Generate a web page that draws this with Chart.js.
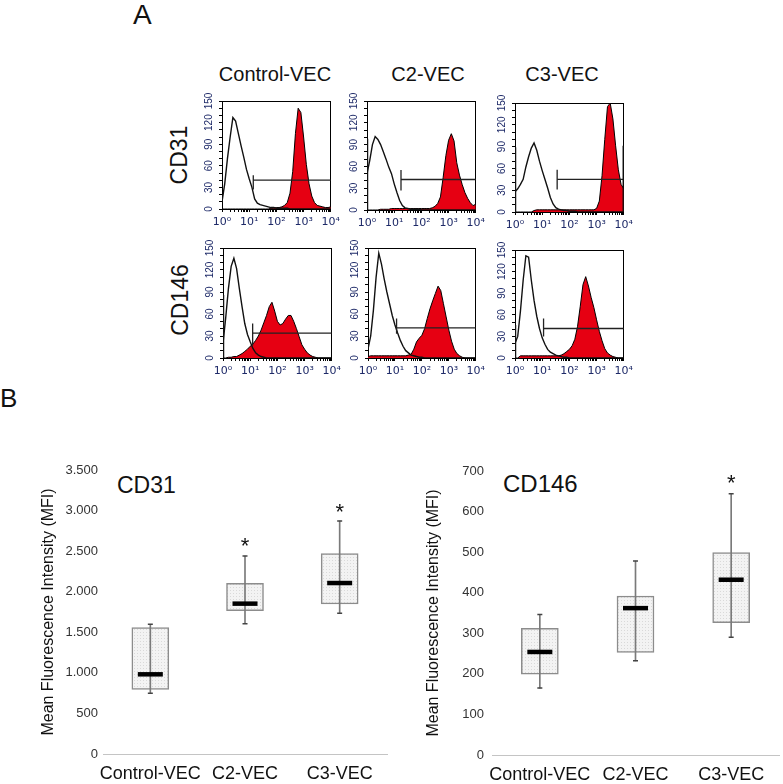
<!DOCTYPE html>
<html><head><meta charset="utf-8">
<script src="https://cdn.jsdelivr.net/npm/chart.js@4.4.0/dist/chart.umd.min.js"></script>
<style>
html,body{margin:0;padding:0;background:#fff;}
#root{position:relative;width:783px;height:784px;overflow:hidden;font-family:"Liberation Sans",Arial,sans-serif;background:#fff;}
.box{position:absolute;}
.lbl{position:absolute;color:#111;white-space:nowrap;line-height:1;}
</style></head><body><div id="root"></div>
<script>
// ---------- DATA: panel A (flow cytometry histograms) ----------
const logX = [0,0.1,0.2,0.3,0.4,0.5,0.6,0.7,0.8,0.9,1.0,1.1,1.2,1.3,1.4,1.5,1.6,1.7,1.8,1.9,2.0,2.1,2.2,2.3,2.4,2.5,2.6,2.7,2.8,2.9,3.0,3.1,3.2,3.3,3.4,3.5,3.6,3.7,3.8,3.9,4.0];
const xMajorTicks = [0,1,2,3,4];
const xTickLabels = ['10\u2070','10\u00B9','10\u00B2','10\u00B3','10\u2074'];
const yCountTicks = [0,10,20,30,40,50,60,70,80,90,100,110,120,130,140,150];
const yLabelStep = 30;
const columnNames = ['Control-VEC','C2-VEC','C3-VEC'];
const rowNames = ['CD31','CD146'];

const cd31CtrlIso = [10,35,70,100,127,122,105,88,72,55,42,30,14,8,6,5,4,3,2,2,1,1,1,1,1,0,0,0,0,0,0,0,0,0,0,0,0,0,0,0,0];
const cd31CtrlPos = [0,0,0,0,0,0,0,0,0,0,0,0,0,0,0,0,0,0,1,1,2,2,3,5,9,22,52,105,140,134,100,62,35,18,9,5,4,3,2,2,3];
const cd31C2Iso   = [50,68,90,101,97,90,80,70,59,50,36,24,13,6,3,2,1,1,1,1,0,0,0,0,0,0,0,0,0,0,0,0,0,0,0,0,0,0,0,0,0];
const cd31C2Pos   = [0,0,0,0,0,1,1,1,1,2,2,2,2,2,2,2,2,2,2,2,2,2,2,2,3,5,9,18,45,75,96,105,95,65,48,35,24,16,10,6,8];
const cd31C3Iso   = [28,32,38,45,62,76,88,95,85,70,57,45,33,20,11,6,4,3,2,2,1,1,1,0,0,0,0,0,0,0,0,0,0,0,0,0,0,0,0,0,0];
const cd31C3Pos   = [0,0,0,0,0,0,0,2,3,3,3,3,3,3,3,3,3,3,3,3,3,3,3,3,3,3,3,3,3,3,5,15,50,100,145,150,128,91,58,38,32];
const cd146CtrlIso= [20,55,95,125,136,122,95,70,47,32,22,13,7,4,2,1,0,0,0,0,0,0,0,0,0,0,0,0,0,0,0,0,0,0,0,0,0,0,0,0,0];
const cd146CtrlPos= [0,0,1,1,2,2,4,6,9,12,16,19,24,30,38,48,58,70,76,64,50,45,47,53,58,58,50,40,29,18,12,7,4,2,1,0,0,0,0,0,0];
const cd146C2Iso  = [12,30,65,110,143,128,108,90,74,58,45,34,24,16,10,7,4,3,2,1,1,0,0,0,0,0,0,0,0,0,0,0,0,0,0,0,0,0,0,0,0];
const cd146C2Pos  = [2,3,3,3,3,3,3,3,3,3,3,3,3,3,3,4,5,12,22,27,31,40,54,67,78,88,98,92,74,56,38,23,12,6,3,1,0,0,0,0,0];
const cd146C3Iso  = [20,30,65,108,142,140,108,80,58,41,28,19,12,8,6,4,3,2,1,1,0,0,0,0,0,0,0,0,0,0,0,0,0,0,0,0,0,0,0,0,0];
const cd146C3Pos  = [0,0,3,3,3,3,3,3,3,3,3,3,3,3,3,3,3,4,6,9,12,17,26,44,72,102,113,100,84,70,53,37,24,13,7,4,2,1,0,0,0];

// off-scale events piled up at the axis edges (first / last channel), per panel
const edgeLowCount  = [null,98,89,86,null,46];
const edgeHighCount = [null,null,91,null,null,null];

// gate markers (log units / counts), one per panel
const gateStart = [1.15,1.25,1.55,1.09,1.06,1.05];
const gateEnd   = [4,4,4,4,4,4];
const gateLevel = [40,42,45,34,41,41];
const gateLow   = [27,27,31,17,33,30];
const gateHigh  = [47,55,58,47,54,55];

// ---------- DATA: panel B (box plots) ----------
const groups = ['Control-VEC','C2-VEC','C3-VEC'];
const cd31Min = [748,1606,1734];
const cd31Q1  = [797,1766,1849];
const cd31Med = [982,1853,2107];
const cd31Q3  = [1557,2103,2469];
const cd31Max = [1598,2440,2871];
const cd31Star= [null,2637,3048];
const cd31Ticks = [0,500,1000,1500,2000,2500,3000,3500];

const cd146Min = [165,232,290];
const cd146Q1  = [199,253,326];
const cd146Med = [254,362,432];
const cd146Q3  = [312,392,499];
const cd146Max = [346,478,644];
const cd146Star= [null,null,685];
const cd146Ticks = [0,100,200,300,400,500,600,700];

const yTitle = 'Mean Fluorescence Intensity (MFI)';

// ---------- rendering ----------
Chart.defaults.font.family = '"Liberation Sans", Arial, "DejaVu Sans", sans-serif';
Chart.defaults.animation = false;
const root = document.getElementById('root');
const RED = '#e60012';
const NAVY = '#1e2a68';

function addLabel(text, left, top, size, extra){
  const d = document.createElement('div');
  d.className = 'lbl'; d.textContent = text;
  d.style.left = left+'px'; d.style.top = top+'px'; d.style.fontSize = size+'px';
  if (extra) d.style.transform = extra;
  root.appendChild(d);
  return d;
}
function addCanvas(left, top, w, h){
  const d = document.createElement('div'); d.className='box';
  d.style.left=left+'px'; d.style.top=top+'px'; d.style.width=w+'px'; d.style.height=h+'px';
  const c = document.createElement('canvas'); c.width=w; c.height=h; c.style.width=w+'px'; c.style.height=h+'px';
  d.appendChild(c); root.appendChild(d);
  return c;
}

// text labels of the figure
addLabel('A', 133, 1, 28);
addLabel('B', 0, 385, 26);
[275, 428, 562].forEach((cx,i)=> addLabel(columnNames[i], cx, 64, 20, 'translateX(-50%)'));
[[179,155],[180,300]].forEach((p,i)=> addLabel(rowNames[i], p[0], p[1], 23, 'translate(-50%,-50%) rotate(-90deg)'));

const panels = [
  {iso:cd31CtrlIso, pos:cd31CtrlPos, L:222,R:332,T:101,B:209},
  {iso:cd31C2Iso,   pos:cd31C2Pos,   L:367,R:477,T:101,B:210},
  {iso:cd31C3Iso,   pos:cd31C3Pos,   L:515,R:625,T:103,B:212},
  {iso:cd146CtrlIso,pos:cd146CtrlPos,L:223,R:333,T:248,B:358},
  {iso:cd146C2Iso,  pos:cd146C2Pos,  L:368,R:477,T:248,B:358},
  {iso:cd146C3Iso,  pos:cd146C3Pos,  L:515,R:625,T:250,B:358}
];
const YW = 20, XH = 24, PT = 8, PR = 12;

panels.forEach((p, g) => {
  const w = YW + (p.R - p.L) + PR, h = PT + (p.B - p.T) + XH;
  const cv = addCanvas(p.L - YW, p.T - PT, w, h);
  const datasets = [
    { data: logX.map((x,i)=>({x, y:p.pos[i]})), borderColor:'#000', borderWidth:1, backgroundColor:RED, fill:'origin', pointRadius:0, tension:0, order:3 },
    { data: logX.map((x,i)=>({x, y:p.iso[i]})), borderColor:'#111', borderWidth:1.4, fill:false, pointRadius:0, tension:0, order:2 },
    { data: [{x:gateStart[g], y:gateLevel[g]},{x:gateEnd[g], y:gateLevel[g]}], borderColor:'#222', borderWidth:1.3, pointRadius:0, fill:false, order:1 },
    { data: [{x:gateStart[g], y:gateLow[g]},{x:gateStart[g], y:gateHigh[g]}], borderColor:'#222', borderWidth:1.3, pointRadius:0, fill:false, order:0 }
  ];
  if (edgeLowCount[g] != null) datasets.push({ data:[{x:logX[0], y:0},{x:logX[0], y:edgeLowCount[g]}], borderColor:'#111', borderWidth:2.5, pointRadius:0, fill:false, order:0 });
  if (edgeHighCount[g] != null) datasets.push({ data:[{x:logX[logX.length-1], y:0},{x:logX[logX.length-1], y:edgeHighCount[g]}], borderColor:'#111', borderWidth:2.5, pointRadius:0, fill:false, order:0 });
  new Chart(cv, {
    type: 'line',
    data: { datasets },
    options: {
      responsive:false, maintainAspectRatio:false, animation:false,
      layout:{ padding:{top:PT, right:PR, left:0, bottom:0} },
      plugins:{ legend:{display:false}, tooltip:{enabled:false} },
      scales:{
        x:{ type:'linear', min:0, max:4,
          afterBuildTicks:(s)=>{ const t=[]; xMajorTicks.forEach(m=>{ t.push({value:m}); if(m<4){ for(let k=2;k<10;k++) t.push({value:m+Math.log10(k)}); } }); s.ticks=t; },
          ticks:{ autoSkip:false, maxRotation:0, minRotation:0, padding:4, color:NAVY, font:{size:11, family:'"DejaVu Sans", "Liberation Sans", sans-serif'},
            callback:(v)=>{ const i = xMajorTicks.indexOf(v); return i>=0 ? xTickLabels[i] : ''; } },
          grid:{ display:true, drawOnChartArea:false, tickLength:3, color:'#000', lineWidth:1 },
          border:{ display:true, color:'#000', width:1 },
          afterFit:(s)=>{ s.height = XH; } },
        y:{ type:'linear', min:0, max:150,
          afterBuildTicks:(s)=>{ s.ticks = yCountTicks.map(v=>({value:v})); },
          ticks:{ autoSkip:false, minRotation:90, maxRotation:90, crossAlign:'center', padding:1, color:NAVY, font:{size:10},
            callback:(v)=> (v % yLabelStep === 0 ? String(v) : '') },
          grid:{ display:true, drawOnChartArea:false, tickLength:3, color:'#000', lineWidth:1 },
          border:{ display:true, color:'#000', width:1 },
          afterFit:(s)=>{ s.width = YW; } },
        x2:{ type:'linear', position:'top', min:0, max:4, ticks:{display:false}, grid:{display:false, drawTicks:false}, border:{display:true,color:'#000',width:1}, afterFit:(s)=>{ s.height=0; } },
        y2:{ type:'linear', position:'right', min:0, max:150, ticks:{display:false}, grid:{display:false, drawTicks:false}, border:{display:true,color:'#000',width:1}, afterFit:(s)=>{ s.width=0; } }
      }
    }
  });
});

// ---------- panel B ----------
function makePattern(){
  const c = document.createElement('canvas'); c.width=3; c.height=3;
  const x = c.getContext('2d');
  x.fillStyle='#f3f3f3'; x.fillRect(0,0,3,3);
  x.fillStyle='#d9d9d9'; x.fillRect(0,0,1,1);
  return x.createPattern(c,'repeat');
}
const starPlugin = {
  id:'stars',
  afterDatasetsDraw(chart, args, opts){
    const xs = chart.scales.x, ys = chart.scales.y, ctx = chart.ctx;
    ctx.save();
    ctx.fillStyle = '#111'; ctx.font = '22px "Liberation Sans", Arial, sans-serif';
    ctx.textAlign='center'; ctx.textBaseline='alphabetic';
    opts.values.forEach((v,i)=>{ if(v!=null){ ctx.fillText('*', xs.getPixelForValue(i), ys.getPixelForValue(v) + 12.5); } });
    ctx.restore();
  }
};
function fmtThousands(v){ return v>=1000 ? Math.floor(v/1000)+'.'+String(v%1000).padStart(3,'0') : String(v); }

function boxChart(cfg){
  const w = cfg.YW + (cfg.R - cfg.L) + cfg.PR;
  const h = cfg.PT + (cfg.B - cfg.T) + cfg.XH;
  const cv = addCanvas(cfg.L - cfg.YW, cfg.T - cfg.PT, w, h);
  const pattern = makePattern();
  new Chart(cv, {
    type:'bar',
    data:{ labels: groups, datasets:[
      { type:'bar', data: cfg.q1.map((v,i)=>[v, cfg.q3[i]]), backgroundColor:pattern, borderColor:'#8c8c8c', borderWidth:1.5, borderSkipped:false, barThickness:37, grouped:false, order:4 },
      { type:'bar', data: cfg.lo.map((v,i)=>[v, cfg.hi[i]]), backgroundColor:'#7a7a7a', borderWidth:0, barThickness:1, grouped:false, order:3 },
      { type:'line', data: cfg.lo, showLine:false, pointStyle:'line', pointRadius:2.5, pointBorderWidth:1.5, pointBorderColor:'#444', order:2 },
      { type:'line', data: cfg.hi, showLine:false, pointStyle:'line', pointRadius:2.5, pointBorderWidth:1.5, pointBorderColor:'#444', order:2 },
      { type:'line', data: cfg.med, showLine:false, pointStyle:'line', pointRadius:12.5, pointBorderWidth:4.5, pointBorderColor:'#000', order:1 }
    ]},
    options:{
      responsive:false, maintainAspectRatio:false, animation:false,
      layout:{ padding:{top:cfg.PT, right:cfg.PR, left:0, bottom:0} },
      plugins:{ legend:{display:false}, tooltip:{enabled:false}, stars:{ values: cfg.star } },
      scales:{
        x:{ type:'category', offset:true,
          grid:{ display:false, drawTicks:false },
          border:{ display:true, color:'#c4c4c4', width:1, dash:[2,2] },
          ticks:{ color:'#111', font:{size:18}, padding:9, maxRotation:0, autoSkip:false },
          afterFit:(s)=>{ s.height = cfg.XH; } },
        y:{ type:'linear', min:0, max:cfg.max,
          afterBuildTicks:(s)=>{ s.ticks = cfg.ticks.map(v=>({value:v})); },
          grid:{ display:false, drawTicks:false },
          border:{ display:false },
          ticks:{ color:'#333', font:{size:13}, padding:cfg.tp, callback:cfg.fmt },
          title:{ display:true, text:yTitle, color:'#111', font:{size:16}, padding:{top:4,bottom:0} },
          afterFit:(s)=>{ s.width = cfg.YW; } }
      }
    },
    plugins:[starPlugin]
  });
}

addLabel('CD31', 117, 474, 23);
addLabel('CD146', 503, 472, 24);

// extra canvas margin (top/right) compensates the library's own label padding
boxChart({ L:103, R:388, T:470, B:754, YW:68, PR:16, PT:18, XH:30, tp:5,
  q1:cd31Q1, q3:cd31Q3, lo:cd31Min, hi:cd31Max, med:cd31Med, star:cd31Star,
  max:3500, ticks:cd31Ticks, fmt:(v)=>fmtThousands(v) });
boxChart({ L:492, R:779, T:471, B:755, YW:72, PR:18, PT:18, XH:29, tp:8,
  q1:cd146Q1, q3:cd146Q3, lo:cd146Min, hi:cd146Max, med:cd146Med, star:cd146Star,
  max:700, ticks:cd146Ticks, fmt:(v)=>String(v) });
</script>
</body></html>
